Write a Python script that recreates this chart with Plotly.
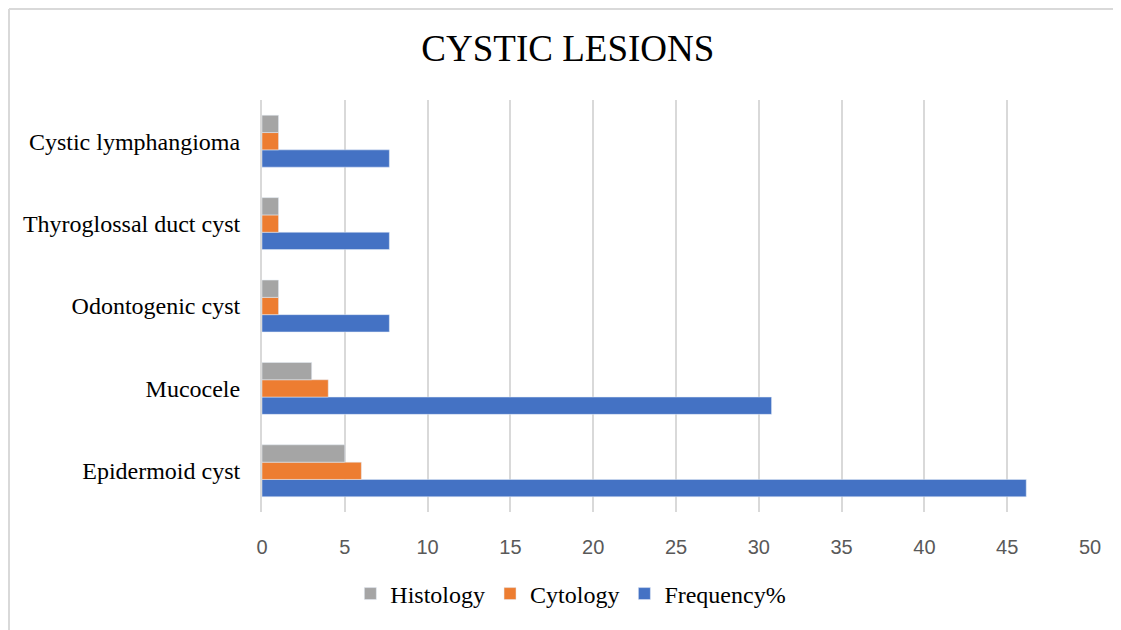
import plotly.graph_objects as go

categories = ["Epidermoid cyst", "Mucocele", "Odontogenic cyst", "Thyroglossal duct cyst", "Cystic lymphangioma"]
frequency = [46.15, 30.77, 7.69, 7.69, 7.69]
cytology = [6, 4, 1, 1, 1]
histology = [5, 3, 1, 1, 1]
x_ticks = [0, 5, 10, 15, 20, 25, 30, 35, 40, 45, 50]

fig = go.Figure()
fig.add_trace(go.Bar(y=categories, x=frequency, orientation="h", name="Frequency%", marker_color="#4472C4"))
fig.add_trace(go.Bar(y=categories, x=cytology, orientation="h", name="Cytology", marker_color="#ED7D31"))
fig.add_trace(go.Bar(y=categories, x=histology, orientation="h", name="Histology", marker_color="#A5A5A5"))

W, H = 1113, 622
L, R, T, B = 254, 31, 92, 118
pw, ph = W - L - R, H - T - B

def px(fx):
    return (fx - L) / pw

def py(fy):
    return (H - B - fy) / ph

fig.update_layout(
    width=W, height=H,
    barmode="group", bargap=0.37, bargroupgap=0,
    plot_bgcolor="white", paper_bgcolor="white",
    margin=dict(l=L, r=R, t=T, b=B),
    title=dict(text="CYSTIC LESIONS", x=0.503, xanchor="center", y=0.936, yanchor="middle",
               font=dict(family="Liberation Serif", size=37, color="#000000")),
    legend=dict(orientation="h", traceorder="reversed", x=0.373, xanchor="center", y=-0.199, yanchor="middle",
                font=dict(family="Liberation Serif", size=24, color="#000000"), itemwidth=30),
    xaxis=dict(range=[0, 50], tickvals=x_ticks, showgrid=True, gridcolor="#D9D9D9", gridwidth=2,
               zeroline=False, ticks="", ticklabelstandoff=21,
               tickfont=dict(family="Liberation Sans", size=20, color="#595959")),
    yaxis=dict(categoryorder="array", categoryarray=categories, showline=True, linecolor="#D9D9D9", linewidth=2,
               ticks="", ticklabelstandoff=15,
               tickfont=dict(family="Liberation Serif", size=24, color="#000000")),
    shapes=[
        dict(type="line", xref="paper", yref="paper", x0=px(1), x1=px(W), y0=py(1), y1=py(1),
             line=dict(color="#D9D9D9", width=2)),
        dict(type="line", xref="paper", yref="paper", x0=px(1), x1=px(1), y0=py(H), y1=py(1),
             line=dict(color="#D9D9D9", width=2)),
    ],
)

fig.write_html("out.html")
